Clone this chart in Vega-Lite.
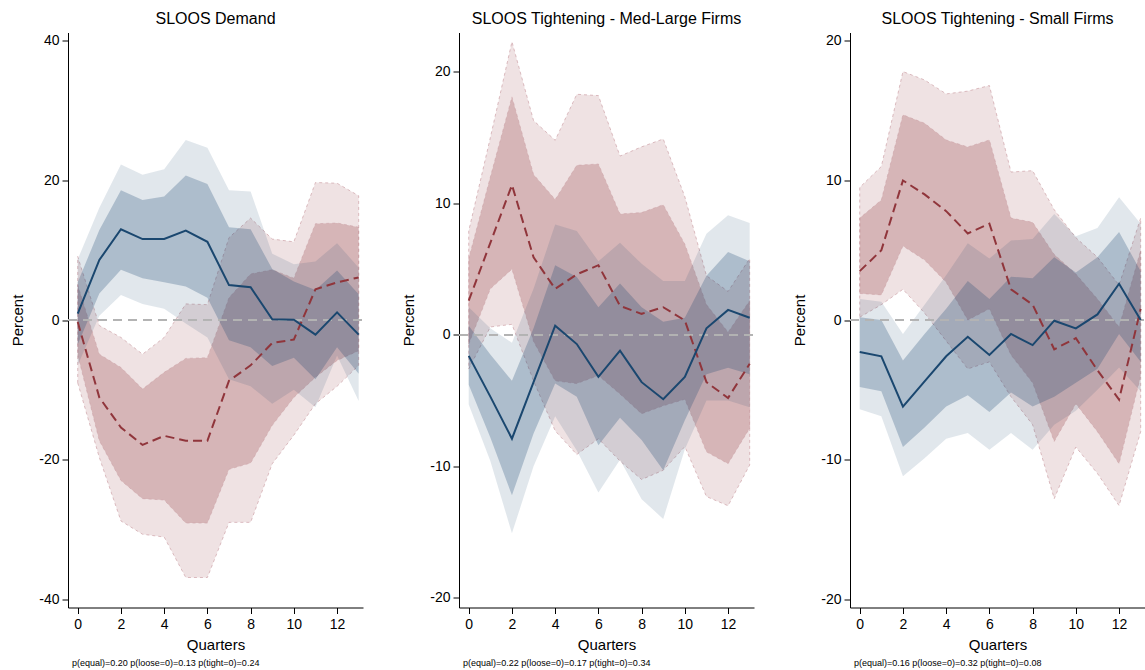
{
  "$schema": "https://vega.github.io/schema/vega-lite/v6.json",
  "background": "white",
  "padding": {"left": 10, "top": 10.5, "right": 0, "bottom": 0},
  "config": {
    "view": {"stroke": null},
    "font": "Liberation Sans",
    "axis": {
      "domainColor": "#000000", "tickColor": "#000000", "labelColor": "#000000", "titleColor": "#000000",
      "labelFont": "Liberation Sans", "titleFont": "Liberation Sans",
      "labelFontSize": 14, "titleFontSize": 15, "titleFontWeight": "normal",
      "grid": false, "tickSize": 6, "domainWidth": 1, "tickWidth": 1,
      "labelExpr": "'' + datum.value"
    },
    "axisX": {"labelPadding": 3.5, "titlePadding": 6.5, "labelFlush": false},
    "axisY": {"labelPadding": 3, "titlePadding": 13},
    "title": {"font": "Liberation Sans", "fontWeight": "normal", "color": "#000000"}
  },
  "datasets": {
    "irf": [
      {"panel": "demand", "shock": "loose", "q": 0, "est": 0.9, "lo68": -3.5, "hi68": 5.4, "lo90": -6.5, "hi90": 8.7},
      {"panel": "demand", "shock": "loose", "q": 1, "est": 8.6, "lo68": 3.8, "hi68": 12.9, "lo90": 0.6, "hi90": 16.1},
      {"panel": "demand", "shock": "loose", "q": 2, "est": 13.0, "lo68": 7.2, "hi68": 18.6, "lo90": 3.6, "hi90": 22.3},
      {"panel": "demand", "shock": "loose", "q": 3, "est": 11.6, "lo68": 6.0, "hi68": 17.2, "lo90": 2.3, "hi90": 20.8},
      {"panel": "demand", "shock": "loose", "q": 4, "est": 11.6, "lo68": 5.4, "hi68": 17.7, "lo90": 1.6, "hi90": 21.6},
      {"panel": "demand", "shock": "loose", "q": 5, "est": 12.8, "lo68": 4.8, "hi68": 20.7, "lo90": -0.5, "hi90": 25.8},
      {"panel": "demand", "shock": "loose", "q": 6, "est": 11.2, "lo68": 3.2, "hi68": 19.5, "lo90": -2.5, "hi90": 24.7},
      {"panel": "demand", "shock": "loose", "q": 7, "est": 5.0, "lo68": -2.9, "hi68": 13.3, "lo90": -8.5, "hi90": 18.6},
      {"panel": "demand", "shock": "loose", "q": 8, "est": 4.7, "lo68": -3.9, "hi68": 13.0, "lo90": -9.5, "hi90": 18.4},
      {"panel": "demand", "shock": "loose", "q": 9, "est": 0.1, "lo68": -6.6, "hi68": 7.3, "lo90": -12.0, "hi90": 9.5},
      {"panel": "demand", "shock": "loose", "q": 10, "est": 0.05, "lo68": -5.4, "hi68": 5.5, "lo90": -10.0, "hi90": 8.0},
      {"panel": "demand", "shock": "loose", "q": 11, "est": -2.1, "lo68": -8.5, "hi68": 4.3, "lo90": -12.5, "hi90": 8.4},
      {"panel": "demand", "shock": "loose", "q": 12, "est": 1.1, "lo68": -3.9, "hi68": 7.1, "lo90": -5.1, "hi90": 11.0},
      {"panel": "demand", "shock": "loose", "q": 13, "est": -2.1, "lo68": -7.7, "hi68": 3.7, "lo90": -11.6, "hi90": 7.5},
      {"panel": "demand", "shock": "tight", "q": 0, "est": -0.3, "lo68": -5.0, "hi68": 5.0, "lo90": -9.0, "hi90": 9.1},
      {"panel": "demand", "shock": "tight", "q": 1, "est": -11.1, "lo68": -17.3, "hi68": -4.9, "lo90": -19.7, "hi90": -0.8},
      {"panel": "demand", "shock": "tight", "q": 2, "est": -15.4, "lo68": -23.0, "hi68": -6.8, "lo90": -28.8, "hi90": -2.5},
      {"panel": "demand", "shock": "tight", "q": 3, "est": -17.9, "lo68": -25.6, "hi68": -9.9, "lo90": -30.7, "hi90": -4.9},
      {"panel": "demand", "shock": "tight", "q": 4, "est": -16.6, "lo68": -25.8, "hi68": -7.5, "lo90": -31.1, "hi90": -2.5},
      {"panel": "demand", "shock": "tight", "q": 5, "est": -17.3, "lo68": -29.1, "hi68": -5.5, "lo90": -36.9, "hi90": 2.3},
      {"panel": "demand", "shock": "tight", "q": 6, "est": -17.3, "lo68": -29.1, "hi68": -5.4, "lo90": -36.9, "hi90": 2.2},
      {"panel": "demand", "shock": "tight", "q": 7, "est": -8.7, "lo68": -21.4, "hi68": 3.2, "lo90": -29.0, "hi90": 11.8},
      {"panel": "demand", "shock": "tight", "q": 8, "est": -6.5, "lo68": -20.5, "hi68": 6.6, "lo90": -29.0, "hi90": 14.6},
      {"panel": "demand", "shock": "tight", "q": 9, "est": -3.3, "lo68": -15.1, "hi68": 7.2, "lo90": -20.6, "hi90": 11.6},
      {"panel": "demand", "shock": "tight", "q": 10, "est": -2.8, "lo68": -11.1, "hi68": 6.0, "lo90": -16.5, "hi90": 11.2},
      {"panel": "demand", "shock": "tight", "q": 11, "est": 4.4, "lo68": -8.2, "hi68": 13.8, "lo90": -12.0, "hi90": 19.7},
      {"panel": "demand", "shock": "tight", "q": 12, "est": 5.4, "lo68": -5.8, "hi68": 13.9, "lo90": -9.5, "hi90": 19.6},
      {"panel": "demand", "shock": "tight", "q": 13, "est": 6.1, "lo68": -4.4, "hi68": 13.3, "lo90": -6.5, "hi90": 17.8},

      {"panel": "large", "shock": "loose", "q": 0, "est": -1.6, "lo68": -3.8, "hi68": 0.7, "lo90": -5.3, "hi90": 2.1},
      {"panel": "large", "shock": "loose", "q": 1, "est": -4.7, "lo68": -7.8, "hi68": -1.5, "lo90": -9.6, "hi90": 0.5},
      {"panel": "large", "shock": "loose", "q": 2, "est": -7.9, "lo68": -12.2, "hi68": -3.5, "lo90": -15.1, "hi90": -0.6},
      {"panel": "large", "shock": "loose", "q": 3, "est": -3.6, "lo68": -7.5, "hi68": 0.5, "lo90": -10.0, "hi90": 3.5},
      {"panel": "large", "shock": "loose", "q": 4, "est": 0.7, "lo68": -3.7, "hi68": 5.3, "lo90": -6.2, "hi90": 8.4},
      {"panel": "large", "shock": "loose", "q": 5, "est": -0.7, "lo68": -4.7, "hi68": 4.4, "lo90": -8.8, "hi90": 7.9},
      {"panel": "large", "shock": "loose", "q": 6, "est": -3.2, "lo68": -8.4, "hi68": 2.1, "lo90": -12.0, "hi90": 5.6},
      {"panel": "large", "shock": "loose", "q": 7, "est": -1.2, "lo68": -6.3, "hi68": 3.9, "lo90": -9.5, "hi90": 7.0},
      {"panel": "large", "shock": "loose", "q": 8, "est": -3.6, "lo68": -8.0, "hi68": 2.1, "lo90": -12.5, "hi90": 5.4},
      {"panel": "large", "shock": "loose", "q": 9, "est": -4.9, "lo68": -10.3, "hi68": 1.0, "lo90": -14.0, "hi90": 4.1},
      {"panel": "large", "shock": "loose", "q": 10, "est": -3.2, "lo68": -6.5, "hi68": 1.3, "lo90": -8.7, "hi90": 4.1},
      {"panel": "large", "shock": "loose", "q": 11, "est": 0.5, "lo68": -3.0, "hi68": 4.5, "lo90": -5.0, "hi90": 7.7},
      {"panel": "large", "shock": "loose", "q": 12, "est": 1.9, "lo68": -2.5, "hi68": 6.3, "lo90": -5.0, "hi90": 9.1},
      {"panel": "large", "shock": "loose", "q": 13, "est": 1.3, "lo68": -3.0, "hi68": 5.6, "lo90": -5.5, "hi90": 8.5},
      {"panel": "large", "shock": "tight", "q": 0, "est": 2.6, "lo68": -0.7, "hi68": 5.8, "lo90": -2.6, "hi90": 7.9},
      {"panel": "large", "shock": "tight", "q": 1, "est": 7.0, "lo68": 3.5, "hi68": 12.0, "lo90": 0.6, "hi90": 15.0},
      {"panel": "large", "shock": "tight", "q": 2, "est": 11.4, "lo68": 5.0, "hi68": 18.1, "lo90": 0.8, "hi90": 22.3},
      {"panel": "large", "shock": "tight", "q": 3, "est": 5.9, "lo68": -0.5, "hi68": 12.2, "lo90": -3.5, "hi90": 16.3},
      {"panel": "large", "shock": "tight", "q": 4, "est": 3.5, "lo68": -3.5, "hi68": 10.3, "lo90": -7.3, "hi90": 14.8},
      {"panel": "large", "shock": "tight", "q": 5, "est": 4.6, "lo68": -3.7, "hi68": 12.9, "lo90": -9.1, "hi90": 18.3},
      {"panel": "large", "shock": "tight", "q": 6, "est": 5.3, "lo68": -3.1, "hi68": 13.0, "lo90": -7.9, "hi90": 18.2},
      {"panel": "large", "shock": "tight", "q": 7, "est": 2.2, "lo68": -4.5, "hi68": 9.2, "lo90": -9.6, "hi90": 13.6},
      {"panel": "large", "shock": "tight", "q": 8, "est": 1.6, "lo68": -6.0, "hi68": 9.3, "lo90": -11.0, "hi90": 14.3},
      {"panel": "large", "shock": "tight", "q": 9, "est": 2.1, "lo68": -5.4, "hi68": 9.9, "lo90": -10.3, "hi90": 14.9},
      {"panel": "large", "shock": "tight", "q": 10, "est": 1.1, "lo68": -4.9, "hi68": 6.9, "lo90": -8.5, "hi90": 10.5},
      {"panel": "large", "shock": "tight", "q": 11, "est": -3.6, "lo68": -8.9, "hi68": 2.3, "lo90": -12.3, "hi90": 4.5},
      {"panel": "large", "shock": "tight", "q": 12, "est": -4.8, "lo68": -9.8, "hi68": 0.2, "lo90": -13.0, "hi90": 3.3},
      {"panel": "large", "shock": "tight", "q": 13, "est": -2.2, "lo68": -7.1, "hi68": 2.6, "lo90": -9.9, "hi90": 5.8},

      {"panel": "small", "shock": "loose", "q": 0, "est": -2.3, "lo68": -4.8, "hi68": 0.2, "lo90": -6.4, "hi90": 1.5},
      {"panel": "small", "shock": "loose", "q": 1, "est": -2.6, "lo68": -5.1, "hi68": 0.0, "lo90": -6.9, "hi90": 1.3},
      {"panel": "small", "shock": "loose", "q": 2, "est": -6.2, "lo68": -9.1, "hi68": -2.9, "lo90": -11.2, "hi90": -1.0},
      {"panel": "small", "shock": "loose", "q": 3, "est": -4.4, "lo68": -7.7, "hi68": -1.0, "lo90": -9.9, "hi90": 1.1},
      {"panel": "small", "shock": "loose", "q": 4, "est": -2.6, "lo68": -6.2, "hi68": 0.8, "lo90": -8.5, "hi90": 3.2},
      {"panel": "small", "shock": "loose", "q": 5, "est": -1.2, "lo68": -5.4, "hi68": 2.8, "lo90": -8.1, "hi90": 5.5},
      {"panel": "small", "shock": "loose", "q": 6, "est": -2.5, "lo68": -6.6, "hi68": 1.5, "lo90": -9.3, "hi90": 4.4},
      {"panel": "small", "shock": "loose", "q": 7, "est": -1.0, "lo68": -5.2, "hi68": 3.1, "lo90": -8.1, "hi90": 5.7},
      {"panel": "small", "shock": "loose", "q": 8, "est": -1.8, "lo68": -6.2, "hi68": 3.0, "lo90": -9.3, "hi90": 5.8},
      {"panel": "small", "shock": "loose", "q": 9, "est": -0.05, "lo68": -5.5, "hi68": 4.5, "lo90": -7.5, "hi90": 7.6},
      {"panel": "small", "shock": "loose", "q": 10, "est": -0.6, "lo68": -4.5, "hi68": 3.4, "lo90": -6.5, "hi90": 6.0},
      {"panel": "small", "shock": "loose", "q": 11, "est": 0.4, "lo68": -3.5, "hi68": 4.5, "lo90": -5.0, "hi90": 6.6},
      {"panel": "small", "shock": "loose", "q": 12, "est": 2.6, "lo68": -1.0, "hi68": 6.3, "lo90": -3.4, "hi90": 8.8},
      {"panel": "small", "shock": "loose", "q": 13, "est": 0.0, "lo68": -3.0, "hi68": 3.5, "lo90": -5.1, "hi90": 6.9},
      {"panel": "small", "shock": "tight", "q": 0, "est": 3.5, "lo68": 1.9, "hi68": 7.3, "lo90": 0.2, "hi90": 9.5},
      {"panel": "small", "shock": "tight", "q": 1, "est": 5.0, "lo68": 1.8, "hi68": 8.6, "lo90": 1.1, "hi90": 11.0},
      {"panel": "small", "shock": "tight", "q": 2, "est": 10.0, "lo68": 5.3, "hi68": 14.7, "lo90": 2.2, "hi90": 17.8},
      {"panel": "small", "shock": "tight", "q": 3, "est": 9.0, "lo68": 4.3, "hi68": 14.1, "lo90": 0.5, "hi90": 17.2},
      {"panel": "small", "shock": "tight", "q": 4, "est": 7.8, "lo68": 2.7, "hi68": 12.9, "lo90": -1.5, "hi90": 16.2},
      {"panel": "small", "shock": "tight", "q": 5, "est": 6.2, "lo68": 0.0, "hi68": 12.4, "lo90": -3.5, "hi90": 16.4},
      {"panel": "small", "shock": "tight", "q": 6, "est": 6.9, "lo68": 0.8, "hi68": 12.9, "lo90": -3.0, "hi90": 16.8},
      {"panel": "small", "shock": "tight", "q": 7, "est": 2.2, "lo68": -2.5, "hi68": 7.3, "lo90": -5.5, "hi90": 10.6},
      {"panel": "small", "shock": "tight", "q": 8, "est": 1.1, "lo68": -4.5, "hi68": 7.0, "lo90": -7.5, "hi90": 10.7},
      {"panel": "small", "shock": "tight", "q": 9, "est": -2.1, "lo68": -8.7, "hi68": 4.7, "lo90": -12.8, "hi90": 7.9},
      {"panel": "small", "shock": "tight", "q": 10, "est": -1.3, "lo68": -6.0, "hi68": 3.3, "lo90": -9.1, "hi90": 5.9},
      {"panel": "small", "shock": "tight", "q": 11, "est": -3.6, "lo68": -8.0, "hi68": 1.5, "lo90": -11.0, "hi90": 4.5},
      {"panel": "small", "shock": "tight", "q": 12, "est": -5.7, "lo68": -10.3, "hi68": -0.5, "lo90": -13.3, "hi90": 2.5},
      {"panel": "small", "shock": "tight", "q": 13, "est": 0.8, "lo68": -4.0, "hi68": 5.0, "lo90": -8.0, "hi90": 7.3}
    ]
  },
  "hconcat": [
    {
      "title": {"text": "p(equal)=0.20 p(loose=0)=0.13 p(tight=0)=0.24", "orient": "bottom", "anchor": "start", "frame": "group", "fontSize": 9, "offset": 6.5, "dx": 4},
      "vconcat": [
        {
          "width": 295, "height": 575,
          "title": {"text": "SLOOS Demand", "fontSize": 16, "offset": 5.5},
          "data": {"name": "irf"},
          "transform": [{"filter": "datum.panel === 'demand'"}],
          "encoding": {
            "x": {"field": "q", "type": "quantitative", "title": "Quarters",
                  "scale": {"domain": [-0.45, 13.2], "nice": false, "zero": false},
                  "axis": {"values": [0, 2, 4, 6, 8, 10, 12]}}
          },
          "layer": [
            {"transform": [{"filter": "datum.shock === 'tight'"}],
             "mark": {"type": "area", "fill": "#90353b", "fillOpacity": 0.14, "stroke": "#c99aa0", "strokeOpacity": 0.8, "strokeWidth": 0.8, "strokeDash": [3, 3]},
             "encoding": {"y": {"field": "lo90", "type": "quantitative", "title": "Percent",
                                "scale": {"domain": [-41.2, 41.2], "nice": false, "zero": false},
                                "axis": {"values": [-40, -20, 0, 20, 40]}},
                          "y2": {"field": "hi90"}}},
            {"transform": [{"filter": "datum.shock === 'tight'"}],
             "mark": {"type": "area", "fill": "#90353b", "fillOpacity": 0.26, "stroke": "#c99aa0", "strokeOpacity": 0.6, "strokeWidth": 0.8, "strokeDash": [3, 3]},
             "encoding": {"y": {"field": "lo68", "type": "quantitative", "title": "Percent"}, "y2": {"field": "hi68"}}},
            {"transform": [{"filter": "datum.shock === 'loose'"}],
             "mark": {"type": "area", "fill": "#1a476f", "fillOpacity": 0.13},
             "encoding": {"y": {"field": "lo90", "type": "quantitative", "title": "Percent"}, "y2": {"field": "hi90"}}},
            {"transform": [{"filter": "datum.shock === 'loose'"}],
             "mark": {"type": "area", "fill": "#1a476f", "fillOpacity": 0.26},
             "encoding": {"y": {"field": "lo68", "type": "quantitative", "title": "Percent"}, "y2": {"field": "hi68"}}},
            {"mark": {"type": "rule", "stroke": "#b3b3b3", "strokeWidth": 1, "strokeDash": [9, 6]},
             "encoding": {"y": {"datum": 0, "type": "quantitative"}, "x": {"value": 0}, "x2": {"value": 295}}},
            {"transform": [{"filter": "datum.shock === 'tight'"}],
             "mark": {"type": "line", "stroke": "#90353b", "strokeWidth": 2, "strokeDash": [9, 5]},
             "encoding": {"y": {"field": "est", "type": "quantitative", "title": "Percent"}}},
            {"transform": [{"filter": "datum.shock === 'loose'"}],
             "mark": {"type": "line", "stroke": "#1a476f", "strokeWidth": 2},
             "encoding": {"y": {"field": "est", "type": "quantitative", "title": "Percent"}}}
          ]
        }
      ]
    },
    {
      "title": {"text": "p(equal)=0.22 p(loose=0)=0.17 p(tight=0)=0.34", "orient": "bottom", "anchor": "start", "frame": "group", "fontSize": 9, "offset": 6.5, "dx": 4},
      "vconcat": [
        {
          "width": 295, "height": 575,
          "title": {"text": "SLOOS Tightening - Med-Large Firms", "fontSize": 16, "offset": 5.5},
          "data": {"name": "irf"},
          "transform": [{"filter": "datum.panel === 'large'"}],
          "encoding": {
            "x": {"field": "q", "type": "quantitative", "title": "Quarters",
                  "scale": {"domain": [-0.45, 13.2], "nice": false, "zero": false},
                  "axis": {"values": [0, 2, 4, 6, 8, 10, 12]}}
          },
          "layer": [
            {"transform": [{"filter": "datum.shock === 'tight'"}],
             "mark": {"type": "area", "fill": "#90353b", "fillOpacity": 0.14, "stroke": "#c99aa0", "strokeOpacity": 0.8, "strokeWidth": 0.8, "strokeDash": [3, 3]},
             "encoding": {"y": {"field": "lo90", "type": "quantitative", "title": "Percent",
                                "scale": {"domain": [-20.74, 23.0], "nice": false, "zero": false},
                                "axis": {"values": [-20, -10, 0, 10, 20]}},
                          "y2": {"field": "hi90"}}},
            {"transform": [{"filter": "datum.shock === 'tight'"}],
             "mark": {"type": "area", "fill": "#90353b", "fillOpacity": 0.26, "stroke": "#c99aa0", "strokeOpacity": 0.6, "strokeWidth": 0.8, "strokeDash": [3, 3]},
             "encoding": {"y": {"field": "lo68", "type": "quantitative", "title": "Percent"}, "y2": {"field": "hi68"}}},
            {"transform": [{"filter": "datum.shock === 'loose'"}],
             "mark": {"type": "area", "fill": "#1a476f", "fillOpacity": 0.13},
             "encoding": {"y": {"field": "lo90", "type": "quantitative", "title": "Percent"}, "y2": {"field": "hi90"}}},
            {"transform": [{"filter": "datum.shock === 'loose'"}],
             "mark": {"type": "area", "fill": "#1a476f", "fillOpacity": 0.26},
             "encoding": {"y": {"field": "lo68", "type": "quantitative", "title": "Percent"}, "y2": {"field": "hi68"}}},
            {"mark": {"type": "rule", "stroke": "#b3b3b3", "strokeWidth": 1, "strokeDash": [9, 6]},
             "encoding": {"y": {"datum": 0, "type": "quantitative"}, "x": {"value": 0}, "x2": {"value": 295}}},
            {"transform": [{"filter": "datum.shock === 'tight'"}],
             "mark": {"type": "line", "stroke": "#90353b", "strokeWidth": 2, "strokeDash": [9, 5]},
             "encoding": {"y": {"field": "est", "type": "quantitative", "title": "Percent"}}},
            {"transform": [{"filter": "datum.shock === 'loose'"}],
             "mark": {"type": "line", "stroke": "#1a476f", "strokeWidth": 2},
             "encoding": {"y": {"field": "est", "type": "quantitative", "title": "Percent"}}}
          ]
        }
      ]
    },
    {
      "title": {"text": "p(equal)=0.16 p(loose=0)=0.32 p(tight=0)=0.08", "orient": "bottom", "anchor": "start", "frame": "group", "fontSize": 9, "offset": 6.5, "dx": 4},
      "vconcat": [
        {
          "width": 295, "height": 575,
          "title": {"text": "SLOOS Tightening - Small Firms", "fontSize": 16, "offset": 5.5},
          "data": {"name": "irf"},
          "transform": [{"filter": "datum.panel === 'small'"}],
          "encoding": {
            "x": {"field": "q", "type": "quantitative", "title": "Quarters",
                  "scale": {"domain": [-0.45, 13.2], "nice": false, "zero": false},
                  "axis": {"values": [0, 2, 4, 6, 8, 10, 12]}}
          },
          "layer": [
            {"transform": [{"filter": "datum.shock === 'tight'"}],
             "mark": {"type": "area", "fill": "#90353b", "fillOpacity": 0.14, "stroke": "#c99aa0", "strokeOpacity": 0.8, "strokeWidth": 0.8, "strokeDash": [3, 3]},
             "encoding": {"y": {"field": "lo90", "type": "quantitative", "title": "Percent",
                                "scale": {"domain": [-20.6, 20.6], "nice": false, "zero": false},
                                "axis": {"values": [-20, -10, 0, 10, 20]}},
                          "y2": {"field": "hi90"}}},
            {"transform": [{"filter": "datum.shock === 'tight'"}],
             "mark": {"type": "area", "fill": "#90353b", "fillOpacity": 0.26, "stroke": "#c99aa0", "strokeOpacity": 0.6, "strokeWidth": 0.8, "strokeDash": [3, 3]},
             "encoding": {"y": {"field": "lo68", "type": "quantitative", "title": "Percent"}, "y2": {"field": "hi68"}}},
            {"transform": [{"filter": "datum.shock === 'loose'"}],
             "mark": {"type": "area", "fill": "#1a476f", "fillOpacity": 0.13},
             "encoding": {"y": {"field": "lo90", "type": "quantitative", "title": "Percent"}, "y2": {"field": "hi90"}}},
            {"transform": [{"filter": "datum.shock === 'loose'"}],
             "mark": {"type": "area", "fill": "#1a476f", "fillOpacity": 0.26},
             "encoding": {"y": {"field": "lo68", "type": "quantitative", "title": "Percent"}, "y2": {"field": "hi68"}}},
            {"mark": {"type": "rule", "stroke": "#b3b3b3", "strokeWidth": 1, "strokeDash": [9, 6]},
             "encoding": {"y": {"datum": 0, "type": "quantitative"}, "x": {"value": 0}, "x2": {"value": 295}}},
            {"transform": [{"filter": "datum.shock === 'tight'"}],
             "mark": {"type": "line", "stroke": "#90353b", "strokeWidth": 2, "strokeDash": [9, 5]},
             "encoding": {"y": {"field": "est", "type": "quantitative", "title": "Percent"}}},
            {"transform": [{"filter": "datum.shock === 'loose'"}],
             "mark": {"type": "line", "stroke": "#1a476f", "strokeWidth": 2},
             "encoding": {"y": {"field": "est", "type": "quantitative", "title": "Percent"}}}
          ]
        }
      ]
    }
  ],
  "spacing": 37
}
